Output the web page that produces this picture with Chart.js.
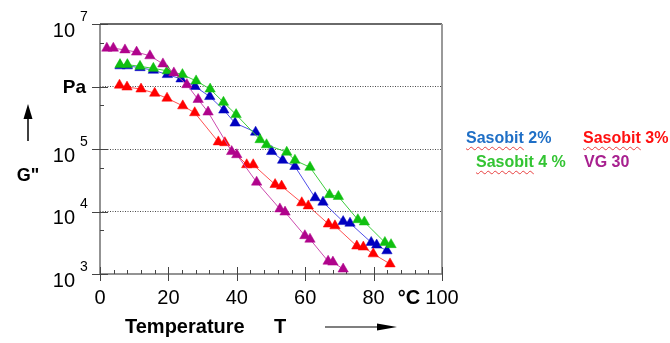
<!DOCTYPE html>
<html>
<head>
<meta charset="utf-8">
<script src="https://cdn.jsdelivr.net/npm/chart.js@4.4.1/dist/chart.umd.min.js"></script>
<style>
    html, body { margin: 0; padding: 0; background: #fff; }
    #wrap { position: relative; width: 670px; height: 343px; }
    #c { position: absolute; left: 0; top: 0; }
    .lg { position: absolute; font: bold 16px "Liberation Sans", Arial, sans-serif; white-space: nowrap; line-height: 20px; }
    .wv { text-decoration: underline wavy #e84040; text-decoration-thickness: 1px; text-underline-offset: 3px; }
</style>
</head>
<body>
<div id="wrap">
    <canvas id="c" width="670" height="343"></canvas>
</div>
<script>
// G'' (Pa) against temperature (°C)
const temp2 = [5.85, 8.0, 11.7, 15.6, 19.7, 23.7, 27.8, 32.1, 36.2, 39.5, 45.5, 50.2, 53.4, 57.0, 62.9, 65.2, 71.1, 73.1, 79.3, 80.9, 83.9];
const gpp2 = [2.14e6, 2.14e6, 2.0e6, 1.82e6, 1.55e6, 1.32e6, 1.0e6, 6.9e5, 4.2e5, 2.6e5, 1.86e5, 9.1e4, 6.6e4, 5.25e4, 1.66e4, 1.41e4, 6.9e3, 6.5e3, 3.2e3, 2.9e3, 2.35e3];

const temp3 = [5.7, 7.9, 12.0, 16.0, 19.6, 24.2, 27.7, 34.6, 36.5, 42.9, 44.8, 51.2, 53.1, 59.0, 60.9, 66.8, 68.7, 75.1, 77.0, 79.9, 84.8];
const gpp3 = [1.05e6, 9.8e5, 9.1e5, 7.8e5, 6.5e5, 4.9e5, 3.8e5, 1.3e5, 1.26e5, 5.6e4, 5.6e4, 2.7e4, 2.55e4, 1.38e4, 1.23e4, 6.3e3, 5.9e3, 2.8e3, 2.7e3, 2.1e3, 1.45e3];

const temp4 = [5.85, 8.0, 11.7, 15.6, 19.7, 24.1, 28.1, 32.2, 36.1, 39.8, 46.8, 48.7, 54.6, 57.0, 61.4, 67.1, 69.7, 75.4, 77.3, 83.3, 85.1];
const gpp4 = [2.24e6, 2.24e6, 2.1e6, 1.95e6, 1.78e6, 1.55e6, 1.23e6, 9.1e5, 5.6e5, 3.55e5, 1.41e5, 1.17e5, 8.9e4, 6.6e4, 5.1e4, 1.86e4, 1.74e4, 7.4e3, 6.8e3, 3.2e3, 2.95e3];

const tempVG = [2.0, 3.9, 7.3, 10.7, 14.6, 18.4, 21.6, 25.4, 28.7, 31.6, 38.5, 40.0, 45.8, 52.6, 54.1, 59.9, 61.4, 66.7, 68.1, 71.1];
const gppVG = [4.1e6, 4.1e6, 3.85e6, 3.55e6, 3.1e6, 2.3e6, 1.65e6, 1.07e6, 6.2e5, 3.9e5, 9.1e4, 8.1e4, 2.95e4, 1.1e4, 9.8e3, 4.1e3, 3.6e3, 1.6e3, 1.55e3, 1.2e3];

const seriesNames = ['Sasobit 2%', 'Sasobit 3%', 'Sasobit 4 %', 'VG 30'];

const xTicks = [0, 20, 40, 60, 80, 100];
const xTickLabels = ['0', '20', '40', '60', '80', '100'];
const yTicks = [1e3, 1e4, 1e5, 1e6, 1e7];
const yTickLabels = ['10^3', '10^4', '10^5', 'Pa', '10^7'];

const FONT = '"Liberation Sans", Arial, sans-serif';

function pts(t, g) {
    return t.map((x, i) => ({ x, y: g[i] }));
}

// legend as html text (spell-check squiggles under the words like the original)
const legendPos = [
    { left: 466, top: 128, color: '#1f6fc6' },
    { left: 583, top: 128, color: '#ff1010' },
    { left: 476, top: 152, color: '#33c433' },
    { left: 584, top: 152, color: '#a8208f' }
];
const wrap = document.getElementById('wrap');
seriesNames.forEach((name, i) => {
    const d = document.createElement('div');
    d.className = 'lg';
    d.style.left = legendPos[i].left + 'px';
    d.style.top = legendPos[i].top + 'px';
    d.style.color = legendPos[i].color;
    const parts = name.split(' ');
    if (parts[0] === 'Sasobit') {
        d.innerHTML = `<span class="wv">${parts[0]}</span> ${parts.slice(1).join(' ')}`;
    } else {
        d.textContent = name;
    }
    wrap.appendChild(d);
});

function arrow(ctx, x1, y1, x2, y2, head, half) {
    const a = Math.atan2(y2 - y1, x2 - x1);
    ctx.beginPath();
    ctx.moveTo(x1, y1);
    ctx.lineTo(x2 - Math.cos(a) * head * 0.8, y2 - Math.sin(a) * head * 0.8);
    ctx.stroke();
    ctx.beginPath();
    ctx.moveTo(x2, y2);
    ctx.lineTo(x2 - Math.cos(a) * head - Math.sin(a) * half, y2 - Math.sin(a) * head + Math.cos(a) * half);
    ctx.lineTo(x2 - Math.cos(a) * head + Math.sin(a) * half, y2 - Math.sin(a) * head - Math.cos(a) * half);
    ctx.closePath();
    ctx.fill();
}

const frameAndLabels = {
    id: 'frameAndLabels',
    beforeDatasetsDraw(chart) {
        const { ctx, chartArea: a, scales: { x, y } } = chart;
        ctx.save();
        // frame
        ctx.strokeStyle = '#6a6a6a';
        ctx.lineWidth = 2;
        ctx.beginPath();
        ctx.moveTo(a.left, a.top);
        ctx.lineTo(a.right, a.top);
        ctx.stroke();
        ctx.strokeStyle = '#999';
        ctx.beginPath();
        ctx.moveTo(a.right, a.top);
        ctx.lineTo(a.right, a.bottom);
        ctx.stroke();
        ctx.strokeStyle = '#707070';
        ctx.lineWidth = 1.5;
        ctx.beginPath();
        ctx.moveTo(a.left, a.top);
        ctx.lineTo(a.left, a.bottom);
        ctx.lineTo(a.right, a.bottom);
        ctx.stroke();

        // tick marks
        ctx.strokeStyle = '#444';
        ctx.lineWidth = 1;
        for (let v = 0; v <= 100; v += 4) {
            const px = Math.round(x.getPixelForValue(v)) + 0.5;
            const major = xTicks.includes(v);
            ctx.beginPath();
            ctx.moveTo(px, a.bottom - (major ? 7 : 4));
            ctx.lineTo(px, a.bottom + (major ? 7 : 0));
            ctx.stroke();
        }
        yTicks.forEach(v => {
            const py = Math.round(y.getPixelForValue(v)) + 0.5;
            ctx.beginPath();
            ctx.moveTo(a.left - 8, py);
            ctx.lineTo(a.left + 8, py);
            ctx.stroke();
            if (v < 1e7) {
                const pm = Math.round(y.getPixelForValue(v * 5)) + 0.5;
                ctx.beginPath();
                ctx.moveTo(a.left, pm);
                ctx.lineTo(a.left + 4, pm);
                ctx.stroke();
            }
        });
        ctx.restore();
    },
    afterDraw(chart) {
        const { ctx, chartArea: a, scales: { x, y } } = chart;
        ctx.save();
        ctx.fillStyle = '#000';
        ctx.strokeStyle = '#000';
        ctx.textBaseline = 'middle';

        // x tick labels
        ctx.font = '20px ' + FONT;
        ctx.textAlign = 'center';
        xTicks.forEach((v, i) => {
            ctx.fillText(xTickLabels[i], x.getPixelForValue(v), 298);
        });
        ctx.font = 'bold 20px ' + FONT;
        ctx.fillText('°C', 409, 298);

        // y tick labels
        yTicks.forEach((v, i) => {
            const py = y.getPixelForValue(v);
            const lab = yTickLabels[i];
            if (lab.includes('^')) {
                const [base, exp] = lab.split('^');
                ctx.font = '20px ' + FONT;
                ctx.textAlign = 'right';
                ctx.fillText(base, 75, py + 7);
                ctx.font = '14px ' + FONT;
                ctx.textAlign = 'left';
                ctx.fillText(exp, 80, py - 7);
            } else {
                ctx.font = 'bold 19px ' + FONT;
                ctx.textAlign = 'right';
                ctx.fillText(lab, 86, py + 1);
            }
        });

        // axis titles
        ctx.font = 'bold 18px ' + FONT;
        ctx.textAlign = 'center';
        ctx.fillText('G"', 28, 176);
        ctx.lineWidth = 1.5;
        arrow(ctx, 28, 141, 28, 104, 15, 4.5);

        ctx.font = 'bold 20px ' + FONT;
        ctx.textAlign = 'left';
        ctx.fillText('Temperature', 125, 327);
        ctx.textAlign = 'center';
        ctx.fillText('T', 280, 327);
        ctx.lineWidth = 1.2;
        arrow(ctx, 325, 327, 397, 327, 20, 3.5);
        ctx.restore();
    }
};

const seriesData = [
    { label: seriesNames[3], data: pts(tempVG, gppVG), line: '#cc4aae', mark: '#b0048c' },
    { label: seriesNames[2], data: pts(temp4, gpp4), line: '#3ccc3c', mark: '#10c010' },
    { label: seriesNames[1], data: pts(temp3, gpp3), line: '#ff5050', mark: '#ff0000' },
    { label: seriesNames[0], data: pts(temp2, gpp2), line: '#4f4fe8', mark: '#0000c0' }
];

new Chart(document.getElementById('c'), {
    type: 'line',
    data: {
        datasets: seriesData.map(s => ({
            label: s.label,
            data: s.data,
            borderColor: s.line,
            borderWidth: 1,
            pointStyle: 'triangle',
            pointRadius: 6,
            pointBackgroundColor: s.mark,
            pointBorderColor: s.mark,
            pointBorderWidth: 0.5,
            tension: 0,
            clip: false
        }))
    },
    options: {
        responsive: false,
        animation: false,
        events: [],
        layout: { padding: { left: 100, right: 228, top: 24, bottom: 69 } },
        plugins: { legend: { display: false }, tooltip: { enabled: false } },
        scales: {
            x: {
                type: 'linear',
                min: 0,
                max: 100,
                ticks: { display: false },
                grid: { display: false },
                border: { display: false },
                afterFit: s => { s.height = 0; }
            },
            y: {
                type: 'logarithmic',
                min: 1e3,
                max: 1e7,
                afterBuildTicks: s => { s.ticks = yTicks.map(v => ({ value: v })); },
                ticks: { display: false },
                grid: {
                    drawTicks: false,
                    color: ctx => (ctx.tick && ctx.tick.value > 1e3 && ctx.tick.value < 1e7) ? '#4a4a4a' : 'rgba(0,0,0,0)',
                    lineWidth: 1
                },
                border: { display: false, dash: [1, 1.5] },
                afterFit: s => { s.width = 0; }
            }
        }
    },
    plugins: [frameAndLabels]
});
</script>
</body>
</html>
